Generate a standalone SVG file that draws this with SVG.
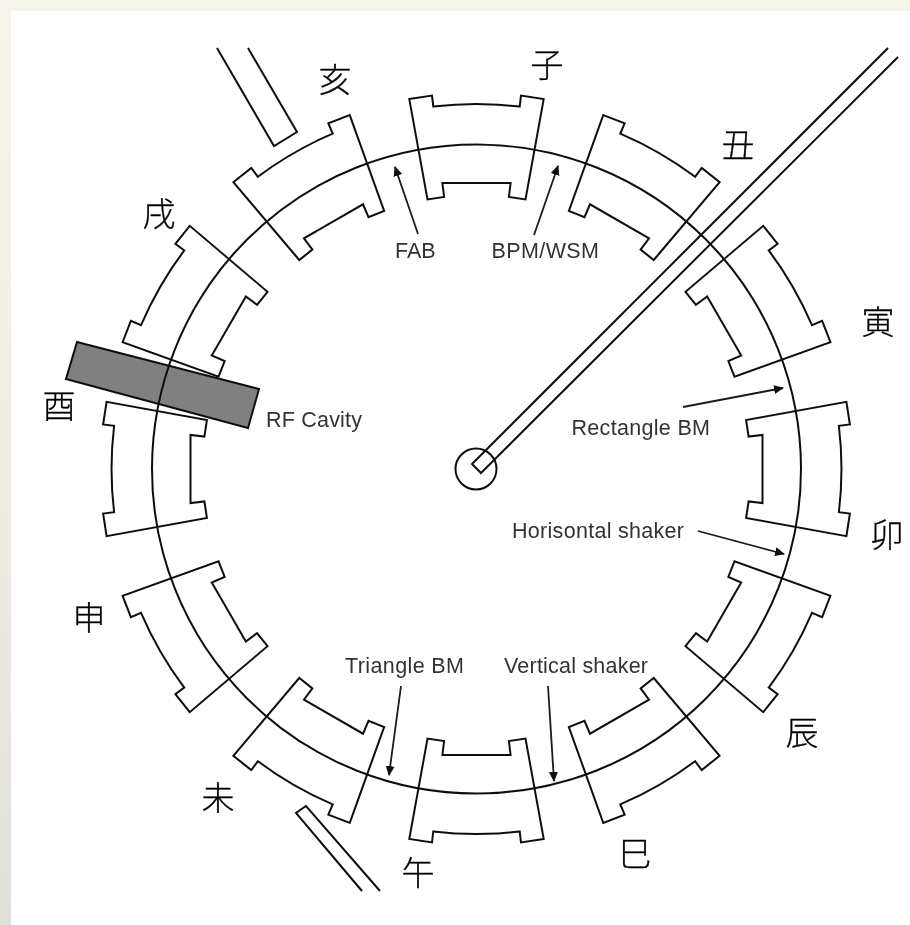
<svg xmlns="http://www.w3.org/2000/svg" xmlns:xlink="http://www.w3.org/1999/xlink" width="910" height="925" viewBox="0 0 910 925">
<style>
.ln{fill:none;stroke:#111;stroke-width:2}
.lbl{font-family:"Liberation Sans",Arial,sans-serif;font-size:21.5px;fill:#333}
.cjk{font-family:"Noto Sans CJK JP","Noto Sans CJK SC",sans-serif;font-size:33px;fill:#000;stroke:#000;stroke-width:0.3;text-anchor:middle;font-weight:300}
.arr{fill:none;stroke:#1a1a1a;stroke-width:1.8;marker-end:url(#ah)}
</style>
<defs>
<linearGradient id="bg" x1="0" y1="0" x2="0" y2="1"><stop offset="0" stop-color="#f7f4ec"/><stop offset="0.55" stop-color="#efece4"/><stop offset="1" stop-color="#e1dfda"/></linearGradient>
<filter id="soft" x="0" y="0" width="100%" height="100%" filterUnits="userSpaceOnUse"><feGaussianBlur stdDeviation="0.55"/></filter>
<marker id="ah" markerUnits="userSpaceOnUse" markerWidth="12" markerHeight="10" refX="9" refY="4.5" orient="auto"><path d="M0,0 L10,4.5 L0,9 Z" fill="#111"/></marker>
<path id="m" class="ln" d="M409.3,99.1 L432,95.6 L433.3,106.6 A365,365 0 0 1 519.7,106.6 L521,95.6 L543.7,99.1 L525.5,199.4 L508.9,196.9 L510.6,183 L442.4,183 L444.1,196.9 L427.5,199.4 Z"/>
</defs>
<rect width="910" height="925" fill="url(#bg)"/>
<rect x="11" y="11" width="899" height="914" fill="#fff"/>
<g filter="url(#soft)">
<g id="magnet-zi"><use href="#m"/><text class="cjk" x="547" y="77">子</text></g>
<g id="magnet-chou"><use href="#m" transform="rotate(30 476.5 469)"/><text class="cjk" x="738" y="157">丑</text></g>
<g id="magnet-yin"><use href="#m" transform="rotate(60 476.5 469)"/><text class="cjk" x="878" y="334">寅</text></g>
<g id="magnet-mao"><use href="#m" transform="rotate(90 476.5 469)"/><text class="cjk" x="887" y="547">卯</text></g>
<g id="magnet-chen"><use href="#m" transform="rotate(120 476.5 469)"/><text class="cjk" x="802" y="745">辰</text></g>
<g id="magnet-si"><use href="#m" transform="rotate(150 476.5 469)"/><text class="cjk" x="635" y="866">巳</text></g>
<g id="magnet-wu"><use href="#m" transform="rotate(180 476.5 469)"/><text class="cjk" x="418" y="885">午</text></g>
<g id="magnet-wei"><use href="#m" transform="rotate(210 476.5 469)"/><text class="cjk" x="218" y="810">未</text></g>
<g id="magnet-shen"><use href="#m" transform="rotate(240 476.5 469)"/><text class="cjk" x="89" y="630">申</text></g>
<g id="magnet-you"><use href="#m" transform="rotate(270 476.5 469)"/><text class="cjk" x="59" y="418">酉</text></g>
<g id="magnet-xu"><use href="#m" transform="rotate(300 476.5 469)"/><text class="cjk" x="159" y="226">戌</text></g>
<g id="magnet-hai"><use href="#m" transform="rotate(330 476.5 469)"/><text class="cjk" x="335" y="92">亥</text></g>
<g id="rf-cavity"><polygon points="77,342 259,389 248,428 66,379" fill="#808080" stroke="#111" stroke-width="2"/><text class="lbl" x="266" y="427" textLength="96">RF Cavity</text></g>
<g id="ring"><circle class="ln" cx="476.5" cy="469" r="324.5"/></g>
<g id="injector"><circle class="ln" cx="476" cy="469" r="20.5"/><path class="ln" d="M888,48 L472,464 L481,473 L898,57"/></g>
<g id="beamline-nw"><path class="ln" d="M217,48 L274,146 L297,132 L248,48"/></g>
<g id="beamline-sw"><path class="ln" d="M362,891 L296,813 L306,806 L380,891"/></g>
<g id="labels">
<text class="lbl" x="395" y="258" textLength="40.5">FAB</text>
<text class="lbl" x="491.5" y="258" textLength="107.5">BPM/WSM</text>
<text class="lbl" x="571.5" y="435" textLength="138.5">Rectangle BM</text>
<text class="lbl" x="512" y="538" textLength="172">Horisontal shaker</text>
<text class="lbl" x="345" y="673" textLength="119">Triangle BM</text>
<text class="lbl" x="504" y="673" textLength="144">Vertical shaker</text>
</g>
<g id="connectors">
<path class="arr" d="M418,234 L395,167"/>
<path class="arr" d="M534,235 L558,166"/>
<path class="arr" d="M683,407 L783,388"/>
<path class="arr" d="M698,531 L784,554"/>
<path class="arr" d="M401,686 L389,775"/>
<path class="arr" d="M548,686 L554,781"/>
</g>
</g>
</svg>
